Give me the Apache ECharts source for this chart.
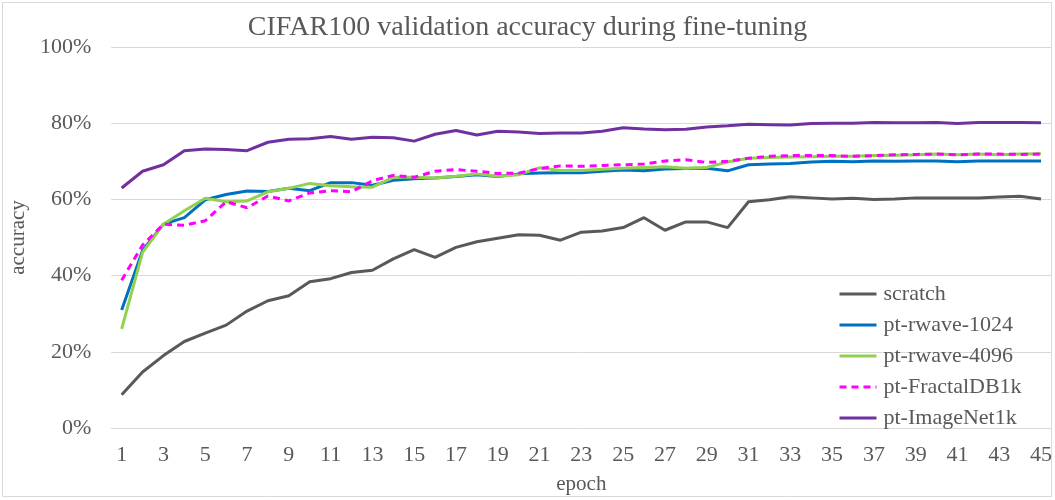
<!DOCTYPE html>
<html>
<head>
<meta charset="utf-8">
<script src="https://cdn.jsdelivr.net/npm/echarts@6/dist/echarts.min.js"></script>
<style>
html,body{margin:0;padding:0;background:#fff;}
#chart{width:1055px;height:500px;}
</style>
</head>
<body>
<div id="chart"></div>
<script>
const epochs = Array.from({length:45},(_,i)=>String(i+1));
const scratch = [8.7,14.7,19.0,22.7,24.9,27.0,30.7,33.4,34.7,38.4,39.2,40.8,41.4,44.4,46.8,44.8,47.4,48.9,49.8,50.7,50.6,49.3,51.4,51.7,52.6,55.2,51.9,54.1,54.1,52.6,59.4,59.9,60.7,60.4,60.1,60.3,60.0,60.1,60.4,60.4,60.4,60.4,60.6,60.8,60.1];
const rwave1024 = [31.0,46.6,53.5,55.2,59.9,61.3,62.2,62.1,62.9,62.3,64.4,64.4,63.7,65.0,65.4,65.6,66.0,66.5,66.0,66.7,66.9,67.0,67.0,67.4,67.7,67.5,68.0,68.1,68.2,67.5,69.1,69.3,69.4,69.8,70.0,69.9,70.1,70.0,70.1,70.1,69.9,70.1,70.1,70.1,70.1];
const rwave4096 = [26.0,46.1,53.5,57.0,60.3,59.4,59.6,62.0,62.9,64.2,63.6,63.3,63.2,65.8,65.8,65.6,66.1,66.7,66.1,66.5,68.3,67.6,67.6,67.9,68.2,68.4,68.6,68.2,68.4,69.8,70.8,71.0,71.1,71.2,71.3,71.3,71.5,71.6,71.7,71.9,71.7,71.9,71.7,71.9,72.0];
const fractal = [38.8,48.0,53.5,53.2,54.4,59.4,57.8,60.9,59.6,61.7,62.3,62.0,64.9,66.3,65.8,67.4,67.8,67.4,66.8,66.9,68.1,68.8,68.7,68.9,69.1,69.3,70.1,70.4,69.7,70.0,70.8,71.3,71.5,71.5,71.5,71.3,71.5,71.7,71.8,71.9,71.7,71.9,71.9,71.8,71.9];
const imagenet = [63.0,67.4,69.1,72.8,73.2,73.1,72.8,75.0,75.8,75.9,76.5,75.8,76.3,76.2,75.3,77.1,78.1,76.9,77.9,77.7,77.3,77.4,77.4,77.9,78.8,78.5,78.3,78.4,79.0,79.3,79.7,79.6,79.5,79.9,80.0,80.0,80.2,80.1,80.1,80.2,79.9,80.2,80.2,80.2,80.1];
const yTicks = [0,20,40,60,80,100];

const FONT = '"Liberation Serif","Times New Roman",serif';
const TXT = '#595959';
function mk(name, data, color, dashed){
  return {name, type:'line', data, symbol:'none', smooth:false,
    lineStyle:{color, width:3, type: dashed ? [7,5] : 'solid'},
    itemStyle:{color}};
}
const chart = echarts.init(document.getElementById('chart'), null, {renderer:'canvas'});
chart.setOption({
  animation:false,
  backgroundColor:'#fff',
  title:{text:'CIFAR100 validation accuracy during fine-tuning', left:'center', top:9,
    textStyle:{fontFamily:FONT, fontSize:28, fontWeight:'normal', color:TXT}},
  grid:{left:108, right:3, top:47, bottom:69, containLabel:false},
  legend:{orient:'vertical', left:833, top:278, itemWidth:37, itemHeight:14, itemGap:9,
    itemStyle:{opacity:0}, lineStyle:{width:3},
    textStyle:{fontFamily:FONT, fontSize:22, color:TXT, padding:[0,0,0,2]},
    data:['scratch','pt-rwave-1024','pt-rwave-4096','pt-FractalDB1k','pt-ImageNet1k']},
  xAxis:{type:'category', data:epochs, boundaryGap:true, name:'epoch', nameLocation:'middle', nameGap:46,
    nameTextStyle:{fontFamily:FONT, fontSize:21, color:TXT},
    axisLine:{show:true, lineStyle:{color:'#d9d9d9', width:1}},
    axisTick:{show:false},
    axisLabel:{interval:1, fontFamily:FONT, fontSize:22, color:TXT, margin:16}},
  yAxis:{type:'value', min:yTicks[0], max:yTicks[yTicks.length-1], interval:20, name:'accuracy',
    nameLocation:'middle', nameGap:80, nameRotate:90,
    nameTextStyle:{fontFamily:FONT, fontSize:21, color:TXT},
    axisLine:{show:false}, axisTick:{show:false},
    axisLabel:{formatter:'{value}%', fontFamily:FONT, fontSize:22, color:TXT, margin:20},
    splitLine:{lineStyle:{color:'#d9d9d9', width:1}}},
  series:[
    mk('scratch', scratch, '#595959', false),
    mk('pt-rwave-1024', rwave1024, '#0070C0', false),
    mk('pt-rwave-4096', rwave4096, '#92D050', false),
    mk('pt-FractalDB1k', fractal, '#FF00FF', true),
    mk('pt-ImageNet1k', imagenet, '#7030A0', false)
  ],
  graphic:[{type:'rect', shape:{x:2.5,y:2.5,width:1049,height:494}, style:{fill:'none', stroke:'#d9d9d9', lineWidth:1}, silent:true}]
});
</script>
</body>
</html>
